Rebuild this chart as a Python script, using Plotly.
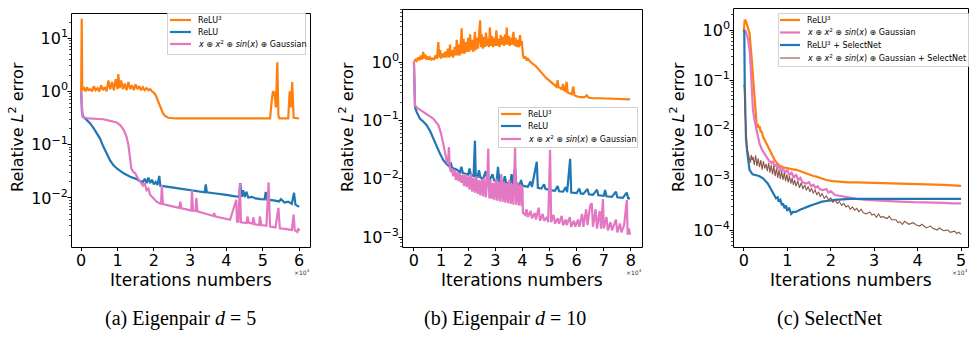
import math
import plotly.graph_objects as go

# ---------------- data (x in units of 1e4 iterations) ----------------
a_relu3_x = [0, 0.015, 0.03, 0.08, 0.12, 0.16, 0.2, 0.25, 0.3, 0.35, 0.4, 0.45, 0.5, 0.55, 0.6, 0.65, 0.7, 0.75, 0.8, 0.85, 0.9, 0.95, 1.0, 1.02, 1.06, 1.1, 1.15, 1.2, 1.25, 1.3, 1.35, 1.4, 1.45, 1.5, 1.55, 1.6, 1.65, 1.7, 1.75, 1.8, 1.85, 1.9, 1.95, 2.0, 2.05, 2.1, 2.15, 2.2, 2.25, 2.3, 2.4, 2.6, 3.0, 4.0, 5.0, 5.2, 5.25, 5.28, 5.32, 5.36, 5.4, 5.43, 5.46, 5.7, 5.74, 5.78, 5.81, 5.85, 6.0]
a_relu3_y = [1.0, 23, 1.05, 1.15, 1.0, 1.2, 1.05, 1.1, 1.0, 1.25, 1.05, 1.15, 1.0, 1.3, 1.05, 1.2, 1.0, 1.6, 1.1, 1.5, 1.05, 1.7, 1.1, 2.1, 1.15, 1.6, 1.1, 1.4, 1.05, 1.5, 1.1, 1.3, 1.05, 1.35, 1.1, 1.25, 1.05, 1.2, 1.05, 1.15, 1.05, 1.1, 1.0, 0.95, 0.85, 0.7, 0.55, 0.45, 0.39, 0.35, 0.32, 0.31, 0.31, 0.31, 0.31, 0.31, 0.7, 1.0, 0.95, 0.5, 3.5, 0.35, 0.31, 0.31, 1.0, 0.5, 1.5, 0.32, 0.31]

a_relu_x = [0, 0.02, 0.05, 0.15, 0.25, 0.35, 0.45, 0.52, 0.6, 0.71, 0.8, 0.89, 1.0, 1.17, 1.35, 1.53, 1.6, 1.7, 1.75, 1.8, 1.85, 1.9, 1.95, 2.0, 2.05, 2.1, 2.15, 2.18, 2.3, 2.5, 2.7, 2.9, 3.1, 3.3, 3.4, 3.43, 3.46, 3.6, 3.8, 4.0, 4.2, 4.35, 4.38, 4.42, 4.46, 4.5, 4.55, 4.6, 4.7, 4.8, 4.95, 5.05, 5.08, 5.12, 5.3, 5.45, 5.5, 5.6, 5.7, 5.8, 5.86, 5.9, 6.0]
a_relu_y = [1.0, 0.42, 0.34, 0.29, 0.25, 0.2, 0.16, 0.13, 0.095, 0.064, 0.05, 0.041, 0.035, 0.029, 0.025, 0.0226, 0.021, 0.020, 0.023, 0.019, 0.024, 0.019, 0.022, 0.018, 0.02, 0.0175, 0.026, 0.017, 0.0165, 0.0158, 0.015, 0.0143, 0.0138, 0.0132, 0.0128, 0.018, 0.0128, 0.0124, 0.012, 0.0114, 0.0108, 0.0105, 0.019, 0.0105, 0.014, 0.0104, 0.013, 0.0102, 0.0105, 0.0098, 0.0095, 0.0094, 0.013, 0.0093, 0.009, 0.0086, 0.0095, 0.0082, 0.0085, 0.0078, 0.0125, 0.0075, 0.0068]

a_mix_x = [0, 0.02, 0.04, 0.2, 0.4, 0.61, 0.8, 0.98, 1.08, 1.17, 1.25, 1.3, 1.34, 1.38, 1.43, 1.49, 1.55, 1.63, 1.7, 1.75, 1.8, 1.85, 1.9, 1.95, 2.0, 2.08, 2.15, 2.2, 2.22, 2.25, 2.45, 2.6, 2.7, 2.73, 2.76, 2.9, 3.03, 3.05, 3.08, 3.15, 3.17, 3.2, 3.37, 3.5, 3.64, 3.66, 3.7, 3.9, 4.1, 4.27, 4.29, 4.33, 4.37, 4.4, 4.48, 4.56, 4.58, 4.62, 4.72, 4.74, 4.78, 4.9, 4.92, 4.96, 5.1, 5.16, 5.2, 5.35, 5.43, 5.47, 5.65, 5.8, 5.85, 5.88, 5.95, 5.98, 6.0]
a_mix_y = [1.0, 0.45, 0.33, 0.31, 0.305, 0.30, 0.28, 0.26, 0.23, 0.19, 0.14, 0.099, 0.06, 0.036, 0.031, 0.029, 0.024, 0.020, 0.017, 0.019, 0.014, 0.015, 0.0114, 0.0105, 0.0095, 0.0085, 0.008, 0.0078, 0.0175, 0.0077, 0.0071, 0.0067, 0.0065, 0.0085, 0.0064, 0.0061, 0.0058, 0.014, 0.0058, 0.0057, 0.010, 0.0056, 0.0051, 0.0049, 0.0046, 0.0052, 0.0045, 0.0042, 0.0039, 0.0092, 0.0036, 0.0036, 0.0187, 0.0035, 0.0035, 0.0034, 0.0045, 0.0034, 0.0033, 0.0043, 0.0032, 0.0031, 0.0045, 0.0031, 0.003, 0.0196, 0.0029, 0.0028, 0.0065, 0.0027, 0.0026, 0.0025, 0.0049, 0.0025, 0.0023, 0.0027, 0.0024]

b_relu3_x = [0, 0.05, 0.1, 0.15, 0.2, 0.25, 0.3, 0.34, 0.38, 0.42, 0.46, 0.5, 0.55, 0.6, 0.65, 0.7, 0.75, 0.8, 0.85, 0.9, 0.93, 0.97, 1.0, 1.05, 1.1, 1.15, 1.2, 1.25, 1.3, 1.33, 1.36, 1.4, 1.45, 1.5, 1.54, 1.58, 1.62, 1.66, 1.7, 1.73, 1.76, 1.79, 1.83, 1.87, 1.91, 1.95, 2.0, 2.04, 2.07, 2.11, 2.15, 2.19, 2.22, 2.25, 2.28, 2.32, 2.36, 2.4, 2.44, 2.47, 2.5, 2.54, 2.58, 2.62, 2.66, 2.7, 2.74, 2.77, 2.8, 2.84, 2.88, 2.92, 2.96, 3.0, 3.04, 3.08, 3.12, 3.16, 3.2, 3.24, 3.28, 3.32, 3.36, 3.4, 3.42, 3.46, 3.5, 3.54, 3.58, 3.62, 3.67, 3.71, 3.75, 3.79, 3.83, 3.87, 3.91, 3.95, 3.98, 4.02, 4.06, 4.1, 4.15, 4.2, 4.25, 4.3, 4.4, 4.5, 4.6, 4.7, 4.77, 4.85, 4.95, 5.05, 5.14, 5.2, 5.25, 5.3, 5.33, 5.4, 5.45, 5.5, 5.53, 5.58, 5.63, 5.67, 5.75, 5.82, 5.88, 5.92, 6.0, 6.13, 6.3, 6.37, 6.45, 6.6, 6.86, 7.2, 7.6, 7.97]
b_relu3_y = [1.0, 1.1, 1.05, 1.2, 1.08, 1.3, 1.1, 1.5, 1.15, 1.35, 1.1, 1.25, 1.1, 1.2, 1.1, 1.15, 1.12, 1.3, 1.15, 2.2, 1.2, 1.6, 1.15, 1.4, 1.2, 1.5, 1.2, 1.7, 1.2, 2.0, 1.25, 1.6, 1.2, 1.8, 1.3, 2.4, 1.3, 2.0, 1.3, 2.8, 3.8, 1.4, 2.5, 1.4, 2.2, 1.5, 2.6, 1.5, 3.0, 1.6, 2.4, 1.5, 2.8, 3.3, 1.6, 2.6, 1.7, 3.5, 5.2, 1.8, 3.0, 1.7, 2.7, 1.8, 3.2, 1.9, 2.5, 1.8, 3.9, 1.9, 2.8, 1.8, 2.6, 1.9, 3.5, 1.9, 2.5, 1.8, 2.9, 2.0, 2.7, 1.9, 3.0, 2.0, 3.9, 2.0, 2.8, 1.9, 2.6, 2.0, 3.3, 1.9, 2.6, 1.8, 2.4, 1.8, 2.9, 1.9, 2.3, 1.3, 1.15, 1.25, 1.1, 1.15, 1.05, 1.0, 0.92, 0.85, 0.75, 0.66, 0.6, 0.55, 0.5, 0.46, 0.43, 0.4, 0.38, 0.49, 0.37, 0.36, 0.34, 0.42, 0.33, 0.32, 0.46, 0.3, 0.29, 0.28, 0.38, 0.27, 0.26, 0.25, 0.25, 0.27, 0.245, 0.24, 0.24, 0.235, 0.23, 0.23]

b_relu_x = [0, 0.02, 0.04, 0.1, 0.22, 0.35, 0.47, 0.6, 0.71, 0.85, 0.96, 1.08, 1.2, 1.33, 1.36, 1.4, 1.57, 1.7, 1.75, 1.8, 1.9, 2.0, 2.05, 2.1, 2.2, 2.25, 2.28, 2.35, 2.4, 2.45, 2.56, 2.65, 2.7, 2.8, 2.9, 2.95, 3.05, 3.1, 3.15, 3.3, 3.35, 3.4, 3.55, 3.6, 3.65, 3.73, 3.77, 3.9, 3.95, 4.0, 4.2, 4.3, 4.35, 4.53, 4.57, 4.7, 4.8, 4.85, 5.02, 5.2, 5.3, 5.35, 5.5, 5.6, 5.65, 5.76, 5.8, 6.0, 6.1, 6.15, 6.25, 6.4, 6.45, 6.6, 6.75, 6.8, 7.0, 7.05, 7.1, 7.3, 7.45, 7.5, 7.7, 7.85, 7.9, 7.97]
b_relu_y = [1.0, 0.4, 0.17, 0.14, 0.108, 0.095, 0.083, 0.065, 0.049, 0.034, 0.027, 0.021, 0.018, 0.016, 0.019, 0.0155, 0.0144, 0.013, 0.016, 0.0125, 0.0122, 0.0118, 0.015, 0.0115, 0.0112, 0.045, 0.011, 0.0108, 0.014, 0.0105, 0.0102, 0.0135, 0.0098, 0.0097, 0.012, 0.0094, 0.0092, 0.016, 0.009, 0.0087, 0.011, 0.0085, 0.0083, 0.012, 0.0081, 0.016, 0.008, 0.0078, 0.0095, 0.0076, 0.0073, 0.009, 0.0072, 0.0195, 0.007, 0.0068, 0.008, 0.0067, 0.0064, 0.0062, 0.0075, 0.0061, 0.006, 0.0072, 0.0059, 0.022, 0.0058, 0.0057, 0.0068, 0.0056, 0.0055, 0.0067, 0.0054, 0.0053, 0.0065, 0.0052, 0.0051, 0.0064, 0.005, 0.0049, 0.006, 0.0048, 0.0047, 0.0058, 0.0046, 0.0046]

b_mix_x = [0, 0.02, 0.04, 0.15, 0.34, 0.5, 0.71, 0.9, 1.0, 1.08, 1.14, 1.2, 1.25, 1.29, 1.32, 1.36, 1.4, 1.45, 1.5, 1.55, 1.6, 1.65, 1.7, 1.75, 1.8, 1.85, 1.9, 1.95, 2.0, 2.05, 2.1, 2.15, 2.2, 2.25, 2.3, 2.35, 2.4, 2.45, 2.5, 2.55, 2.6, 2.65, 2.7, 2.74, 2.78, 2.82, 2.87, 2.92, 2.97, 3.02, 3.07, 3.12, 3.17, 3.22, 3.27, 3.32, 3.37, 3.42, 3.47, 3.52, 3.57, 3.62, 3.67, 3.73, 3.77, 3.82, 3.87, 3.92, 3.97, 4.0, 4.02, 4.1, 4.15, 4.2, 4.3, 4.35, 4.45, 4.5, 4.6, 4.65, 4.75, 4.8, 4.9, 4.95, 5.02, 5.06, 5.15, 5.2, 5.3, 5.35, 5.45, 5.5, 5.6, 5.63, 5.75, 5.8, 5.9, 5.95, 6.05, 6.1, 6.2, 6.25, 6.35, 6.4, 6.5, 6.56, 6.6, 6.7, 6.75, 6.85, 6.9, 6.97, 7.0, 7.1, 7.15, 7.25, 7.3, 7.45, 7.5, 7.6, 7.65, 7.75, 7.85, 7.88, 7.93, 7.97]
b_mix_y = [1.0, 0.4, 0.18, 0.16, 0.14, 0.125, 0.108, 0.083, 0.06, 0.04, 0.028, 0.021, 0.018, 0.035, 0.016, 0.013, 0.015, 0.011, 0.014, 0.0095, 0.013, 0.009, 0.0125, 0.0085, 0.0115, 0.0075, 0.012, 0.0072, 0.011, 0.0065, 0.012, 0.006, 0.0105, 0.0058, 0.011, 0.0055, 0.0095, 0.0052, 0.01, 0.005, 0.0105, 0.0048, 0.009, 0.033, 0.0046, 0.0095, 0.0045, 0.0085, 0.0043, 0.01, 0.0042, 0.0088, 0.0041, 0.012, 0.004, 0.009, 0.0039, 0.0085, 0.0038, 0.0095, 0.0037, 0.0082, 0.0036, 0.035, 0.0036, 0.0088, 0.0035, 0.008, 0.0034, 0.0075, 0.0026, 0.0024, 0.003, 0.0022, 0.0028, 0.0021, 0.0026, 0.002, 0.0032, 0.0019, 0.0025, 0.0019, 0.0022, 0.0018, 0.031, 0.0018, 0.0024, 0.0017, 0.0021, 0.0017, 0.0023, 0.0016, 0.002, 0.0016, 0.0022, 0.0015, 0.0019, 0.0015, 0.002, 0.0015, 0.0025, 0.0015, 0.003, 0.0016, 0.0035, 0.0038, 0.0015, 0.003, 0.0014, 0.0028, 0.0014, 0.0045, 0.0014, 0.0022, 0.0013, 0.0018, 0.0013, 0.002, 0.0012, 0.0017, 0.0012, 0.0016, 0.0043, 0.0011, 0.0014, 0.0011]

c_relu3_x = [0, 0.02, 0.05, 0.1, 0.13, 0.17, 0.21, 0.25, 0.28, 0.3, 0.32, 0.34, 0.36, 0.39, 0.41, 0.44, 0.5, 0.55, 0.59, 0.65, 0.7, 0.74, 0.8, 0.9, 1.0, 1.1, 1.21, 1.3, 1.45, 1.6, 1.67, 1.8, 1.9, 2.05, 2.2, 2.4, 2.6, 2.82, 3.0, 3.3, 3.59, 3.9, 4.1, 4.35, 4.6, 4.8, 5.0]
c_relu3_y = [1.0, 1.6, 1.5, 1.1, 0.86, 0.35, 0.116, 0.03, 0.0135, 0.011, 0.013, 0.011, 0.012, 0.009, 0.0095, 0.0074, 0.0058, 0.0047, 0.004, 0.0031, 0.0026, 0.0023, 0.002, 0.0018, 0.0017, 0.00165, 0.0016, 0.0015, 0.0013, 0.0012, 0.00117, 0.00105, 0.001, 0.00095, 0.00092, 0.0009, 0.0009, 0.00089, 0.00088, 0.00087, 0.00086, 0.00084, 0.00083, 0.00082, 0.0008, 0.00078, 0.00076]

c_mix_x = [0, 0.03, 0.06, 0.1, 0.14, 0.18, 0.21, 0.25, 0.29, 0.33, 0.36, 0.42, 0.47, 0.51, 0.57, 0.63, 0.67, 0.7, 0.74, 0.78, 0.82, 0.86, 0.9, 0.95, 1.0, 1.05, 1.1, 1.15, 1.2, 1.25, 1.3, 1.35, 1.44, 1.5, 1.55, 1.6, 1.65, 1.7, 1.75, 1.82, 1.9, 1.95, 2.0, 2.1, 2.2, 2.3, 2.4, 2.6, 2.82, 3.0, 3.3, 3.59, 3.9, 4.1, 4.35, 4.6, 4.8, 5.0]
c_mix_y = [0.9, 1.0, 0.85, 0.63, 0.34, 0.1, 0.025, 0.015, 0.01, 0.007, 0.0054, 0.004, 0.0034, 0.0029, 0.0025, 0.0022, 0.0024, 0.0019, 0.002, 0.0017, 0.0019, 0.0015, 0.0017, 0.0014, 0.0016, 0.00126, 0.0014, 0.0011, 0.0013, 0.001, 0.0011, 0.0009, 0.00085, 0.0009, 0.00075, 0.0008, 0.0007, 0.00075, 0.00065, 0.00063, 0.00066, 0.00056, 0.0006, 0.0005, 0.00048, 0.00047, 0.00045, 0.00042, 0.0004, 0.00039, 0.00038, 0.00037, 0.00036, 0.00036, 0.00035, 0.00035, 0.00034, 0.00034]

c_relu3sel_x = [0, 0.01, 0.02, 0.03, 0.05, 0.08, 0.1, 0.13, 0.2, 0.28, 0.35, 0.44, 0.5, 0.55, 0.59, 0.63, 0.67, 0.7, 0.74, 0.78, 0.8, 0.84, 0.88, 0.9, 0.94, 0.97, 1.0, 1.04, 1.07, 1.09, 1.13, 1.2, 1.28, 1.4, 1.5, 1.59, 1.7, 1.8, 1.9, 2.1, 2.44, 3.0, 3.5, 4.0, 4.5, 5.0]
c_relu3sel_y = [1.0, 0.9, 0.08, 0.015, 0.0063, 0.0035, 0.0022, 0.0016, 0.0013, 0.00126, 0.0012, 0.00108, 0.00095, 0.00085, 0.00074, 0.00065, 0.00055, 0.0005, 0.00043, 0.00045, 0.00037, 0.0004, 0.00031, 0.00034, 0.00027, 0.00031, 0.00024, 0.00028, 0.00022, 0.00021, 0.00023, 0.00023, 0.00025, 0.00028, 0.0003, 0.00032, 0.00035, 0.00037, 0.00038, 0.0004, 0.00042, 0.00042, 0.00043, 0.00042, 0.00043, 0.00042]

c_mixsel_x = [0, 0.01, 0.03, 0.05, 0.08, 0.1, 0.13, 0.15, 0.17, 0.19, 0.21, 0.24, 0.27, 0.3, 0.33, 0.36, 0.39, 0.42, 0.45, 0.48, 0.51, 0.54, 0.57, 0.6, 0.63, 0.66, 0.69, 0.72, 0.75, 0.78, 0.81, 0.84, 0.87, 0.9, 0.93, 0.96, 0.99, 1.02, 1.05, 1.08, 1.11, 1.14, 1.17, 1.2, 1.24, 1.28, 1.32, 1.36, 1.4, 1.44, 1.48, 1.52, 1.56, 1.6, 1.64, 1.68, 1.72, 1.76, 1.8, 1.85, 1.9, 1.95, 2.0, 2.05, 2.1, 2.15, 2.2, 2.25, 2.3, 2.35, 2.4, 2.45, 2.5, 2.55, 2.6, 2.65, 2.7, 2.75, 2.82, 2.9, 2.95, 3.0, 3.05, 3.1, 3.15, 3.2, 3.3, 3.35, 3.4, 3.5, 3.55, 3.59, 3.65, 3.7, 3.8, 3.9, 3.97, 4.05, 4.1, 4.2, 4.3, 4.35, 4.45, 4.5, 4.6, 4.7, 4.75, 4.85, 4.9, 4.95, 5.0]
c_mixsel_y = [0.08, 0.07, 0.02, 0.0085, 0.004, 0.0035, 0.0028, 0.0022, 0.0032, 0.0025, 0.0029, 0.002, 0.0031, 0.0019, 0.0027, 0.0018, 0.0025, 0.0016, 0.0024, 0.0017, 0.0021, 0.0015, 0.0022, 0.0014, 0.002, 0.0013, 0.0019, 0.0012, 0.0017, 0.0011, 0.0016, 0.00105, 0.0015, 0.001, 0.0014, 0.00095, 0.0013, 0.0009, 0.0012, 0.00085, 0.0011, 0.0008, 0.001, 0.00075, 0.00095, 0.0007, 0.00088, 0.00066, 0.0008, 0.00062, 0.00074, 0.00058, 0.00068, 0.00054, 0.00064, 0.0005, 0.00058, 0.00046, 0.00054, 0.00043, 0.00048, 0.0004, 0.00044, 0.00036, 0.0004, 0.00034, 0.00037, 0.00031, 0.00034, 0.00029, 0.00031, 0.00026, 0.00029, 0.00025, 0.00027, 0.00023, 0.00026, 0.00022, 0.00021, 0.00023, 0.0002, 0.00021, 0.00018, 0.00021, 0.00018, 0.000185, 0.00017, 0.00019, 0.00016, 0.00016, 0.00014, 0.000147, 0.00013, 0.00015, 0.00013, 0.00014, 0.000126, 0.00012, 0.00013, 0.00011, 0.00012, 0.000108, 0.0001, 0.00011, 0.000097, 0.0001, 0.00009, 0.000095, 0.000085, 0.00009, 0.000082]

x_ticks_a = [0, 1, 2, 3, 4, 5, 6]
x_ticks_b = [0, 1, 2, 3, 4, 5, 6, 7, 8]
x_ticks_c = [0, 1, 2, 3, 4, 5]
y_exps_a = [-2, -1, 0, 1]
y_exps_b = [-3, -2, -1, 0]
y_exps_c = [-4, -3, -2, -1, 0]

MIX = "<i>x</i> ⊕ <i>x</i><sup>2</sup> ⊕ <i>sin</i>(<i>x</i>) ⊕ Gaussian"
ORANGE, BLUE, PINK, BROWN = "#ff7f0e", "#1f77b4", "#e377c2", "#8c564b"

W, H = 970, 339
def px(x):
    return x / W
def py(y):
    return 1 - y / H
def crisp(v):
    return math.floor(v) + 0.5

fig = go.Figure()

panels = [
    ("x", "y", (71, 310, 13, 247), [-0.28, 6.3], [-2.92, 1.47], x_ticks_a, y_exps_a,
     [(a_relu3_x, a_relu3_y, ORANGE, 2.2), (a_relu_x, a_relu_y, BLUE, 2.2), (a_mix_x, a_mix_y, PINK, 2.2)]),
    ("x2", "y2", (402, 642, 9, 247), [-0.44, 8.41], [-3.17, 0.91], x_ticks_b, y_exps_b,
     [(b_relu3_x, b_relu3_y, ORANGE, 2.2), (b_relu_x, b_relu_y, BLUE, 2.2), (b_mix_x, b_mix_y, PINK, 2.2)]),
    ("x3", "y3", (733, 968, 8, 247), [-0.25, 5.16], [-4.34, 0.44], x_ticks_c, y_exps_c,
     [(c_relu3_x, c_relu3_y, ORANGE, 2.2), (c_mix_x, c_mix_y, PINK, 2.2),
      (c_relu3sel_x, c_relu3sel_y, BLUE, 2.2), (c_mixsel_x, c_mixsel_y, BROWN, 1.1)]),
]

layout = {}
annotations = []
shapes = []
FONT = "DejaVu Sans"
TICKFONT = dict(family=FONT, size=16, color="black")

def hline(x0, x1, y, w=1.0, col="black"):
    shapes.append(dict(type="line", xref="paper", yref="paper", x0=px(x0), x1=px(x1),
                       y0=py(y), y1=py(y), line=dict(color=col, width=w), layer="above"))

def vline(x, y0, y1, w=1.0, col="black"):
    shapes.append(dict(type="line", xref="paper", yref="paper", x0=px(x), x1=px(x),
                       y0=py(y0), y1=py(y1), line=dict(color=col, width=w), layer="above"))

for xid, yid, (l, r, t, b), xr, yr, xt, ye, traces in panels:
    for xs, ys, col, w in traces:
        fig.add_trace(go.Scatter(x=xs, y=ys, mode="lines", xaxis=xid, yaxis=yid,
                                 line=dict(color=col, width=w), showlegend=False,
                                 hoverinfo="skip"))
    xname = "xaxis" + xid[1:]
    yname = "yaxis" + yid[1:]
    layout[xname] = dict(domain=[px(l), px(r)], anchor=yid, range=xr,
                         tickmode="array", tickvals=xt, ticktext=[str(v) for v in xt],
                         showline=False, ticks="", ticklabelstandoff=2,
                         showgrid=False, zeroline=False, tickfont=TICKFONT)
    layout[yname] = dict(domain=[py(b), py(t)], anchor=xid, type="log", range=yr,
                         tickmode="array", tickvals=[10 ** e for e in ye],
                         ticktext=["10<sup>" + str(e).replace("-", "−") + "</sup>" for e in ye],
                         showline=False, ticks="", ticklabelstandoff=2,
                         showgrid=False, zeroline=False, tickfont=TICKFONT)
    # frame (axes spines)
    shapes.append(dict(type="rect", xref="paper", yref="paper", x0=px(crisp(l)), x1=px(crisp(r)),
                       y0=py(crisp(b)), y1=py(crisp(t)), line=dict(color="black", width=1),
                       fillcolor="rgba(0,0,0,0)", layer="above"))
    # x major ticks
    for v in xt:
        xx = l + (v - xr[0]) / (xr[1] - xr[0]) * (r - l)
        vline(crisp(xx), crisp(b), b + 4)
    # y major + minor ticks
    for e in range(int(math.floor(yr[0])), int(math.ceil(yr[1])) + 1):
        for m in range(1, 10):
            lv = e + math.log10(m)
            if yr[0] <= lv <= yr[1]:
                yy = crisp(b - (lv - yr[0]) / (yr[1] - yr[0]) * (b - t))
                if m == 1:
                    hline(l - 3.5, crisp(l), yy)
                else:
                    hline(l - 2, crisp(l), yy, w=0.7)
    cx = (l + r) / 2
    annotations.append(dict(x=px(cx), y=py(280), xref="paper", yref="paper",
                            xanchor="center", yanchor="middle",
                            text="Iterations numbers", showarrow=False,
                            font=dict(family=FONT, size=17, color="black")))
    annotations.append(dict(x=px(r + 2), y=py(272), xref="paper", yref="paper",
                            xanchor="right", yanchor="middle",
                            text="×10<sup>4</sup>", showarrow=False,
                            font=dict(family=FONT, size=6, color="#333")))

# y-axis titles
for xc in (16, 346, 677):
    annotations.append(dict(x=px(xc), y=py(127), xref="paper", yref="paper",
                            xanchor="center", yanchor="middle",
                            text="Relative <i>L</i><sup>2</sup> error", textangle=-90,
                            showarrow=False,
                            font=dict(family=FONT, size=16, color="black")))

# captions
for xc, txt in ((180, "(a) Eigenpair <i>d</i> = 5"), (505, "(b) Eigenpair <i>d</i> = 10"),
                (829, "(c) SelectNet")):
    annotations.append(dict(x=px(xc), y=py(318), xref="paper", yref="paper",
                            xanchor="center", yanchor="middle",
                            text=txt, showarrow=False,
                            font=dict(family="Liberation Serif", size=20, color="black")))

# legends (drawn manually to match matplotlib compact legends)
legends = [
    ((167, 305, 13, 54), [(20, ORANGE, 2.2, "ReLU<sup>3</sup>"), (32, BLUE, 2.2, "ReLU"),
                          (44, PINK, 2.2, MIX)], 170, 191, 196),
    ((498, 637, 107, 147), [(114, ORANGE, 2.2, "ReLU<sup>3</sup>"), (126, BLUE, 2.2, "ReLU"),
                            (139, PINK, 2.2, MIX)], 501, 521, 526),
    ((778, 968, 13, 66), [(20, ORANGE, 2.2, "ReLU<sup>3</sup>"), (32.5, PINK, 2.2, MIX),
                          (45, BLUE, 2.2, "ReLU<sup>3</sup> + SelectNet"),
                          (58, BROWN, 1.1, MIX + " + SelectNet")], 780, 800, 805),
]
for (l, r, t, b), items, lx0, lx1, tx in legends:
    shapes.append(dict(type="rect", xref="paper", yref="paper", x0=px(crisp(l)), x1=px(crisp(r)),
                       y0=py(crisp(b)), y1=py(crisp(t)), line=dict(color="#d0d0d0", width=1),
                       fillcolor="rgba(255,255,255,0.85)", layer="above"))
    for yy, col, w, txt in items:
        hline(lx0, lx1, yy, w=w, col=col)
        annotations.append(dict(x=px(tx), y=py(yy), xref="paper", yref="paper",
                                xanchor="left", yanchor="middle", text=txt, showarrow=False,
                                font=dict(family=FONT, size=8, color="black")))

fig.update_layout(width=W, height=H, margin=dict(l=0, r=0, t=0, b=0),
                  paper_bgcolor="white", plot_bgcolor="white",
                  annotations=annotations, shapes=shapes, **layout)
fig.write_html("out.html")
